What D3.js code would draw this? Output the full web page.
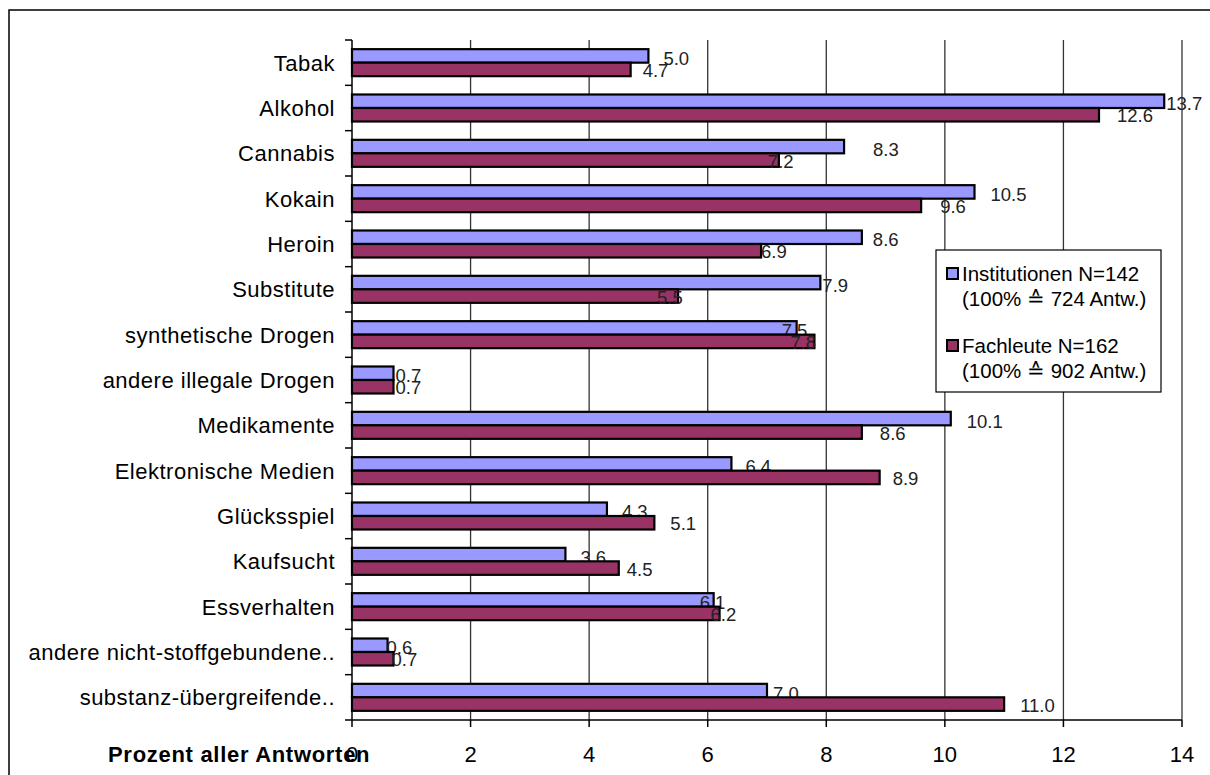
<!DOCTYPE html>
<html><head><meta charset="utf-8">
<script src="https://cdn.jsdelivr.net/npm/d3@7"></script>
<style>body{margin:0;background:#fff}svg{display:block}text{font-family:"Liberation Sans",Arial,sans-serif}</style>
</head><body>
<svg id="c" width="1210" height="775"></svg>
<script>
const categories = ["Tabak","Alkohol","Cannabis","Kokain","Heroin","Substitute","synthetische Drogen","andere illegale Drogen","Medikamente","Elektronische Medien","Glücksspiel","Kaufsucht","Essverhalten","andere nicht-stoffgebundene..","substanz-übergreifende.."];
const institutionen = [5.0,13.7,8.3,10.5,8.6,7.9,7.5,0.7,10.1,6.4,4.3,3.6,6.1,0.6,7.0];
const fachleute = [4.7,12.6,7.2,9.6,6.9,5.5,7.8,0.7,8.6,8.9,5.1,4.5,6.2,0.7,11.0];
const xTicks = [0,2,4,6,8,10,12,14];
const seriesNames = ["Institutionen N=142","Fachleute N=162"];
const seriesNotes = ["(100% \u2259 724 Antw.)","(100% \u2259 902 Antw.)"];
const axisTitle = "Prozent aller Antworten";
// label nudges (px) as in the original layout
const nudgeA = [15,2,29,16,11,2,-15,2,16,14,15,15,-14,-1,6];
const nudgeB = [12,18,-11,19,0,-21,-24,2,18,13,16,8,-9,-2,16];

const colors = ["#9999FF","#993366"];
const svg = d3.select("#c");
const L = 352, R = 1182, T = 40, B = 720;
const x = d3.scaleLinear().domain([0,14]).range([L,R]);
const y = d3.scaleBand().domain(categories).range([T,B]);
const barH = 13.5;

// outer frame
svg.append("rect").attr("x",9).attr("y",10).attr("width",1220).attr("height",800)
  .attr("fill","none").attr("stroke","#000").attr("stroke-width",1.5);

// gridlines
svg.append("g").selectAll("line").data(xTicks.filter(d=>d>0)).join("line")
  .attr("x1",d=>x(d)).attr("x2",d=>x(d)).attr("y1",T).attr("y2",B)
  .attr("stroke","#333").attr("stroke-width",1.3);

// bars & labels
const g = svg.append("g");
function drawSeries(vals, idx, nudge){
  g.append("g").selectAll("rect").data(vals).join("rect")
    .attr("x",x(0)).attr("y",(d,i)=>y(categories[i])+y.bandwidth()/2 - barH + idx*barH)
    .attr("width",d=>x(d)-x(0)).attr("height",barH)
    .attr("fill",colors[idx]).attr("stroke","#000").attr("stroke-width",2.2);
  g.append("g").selectAll("text").data(vals).join("text")
    .attr("x",(d,i)=>x(d)+nudge[i])
    .attr("y",(d,i)=>y(categories[i])+y.bandwidth()/2 - barH/2 + idx*barH + 1 + (idx===0?1.5:0))
    .attr("dy","0.36em").attr("font-size",18.5).attr("fill","#222")
    .text(d=>d.toFixed(1));
}
drawSeries(institutionen,0,nudgeA);
drawSeries(fachleute,1,nudgeB);

// axes
const ax = svg.append("g").attr("stroke","#000").attr("stroke-width",1.5);
ax.append("line").attr("x1",L).attr("x2",L).attr("y1",T).attr("y2",B);
ax.append("line").attr("x1",L).attr("x2",R).attr("y1",B).attr("y2",B);
const bounds = categories.map(c=>y(c)).concat([B]);
ax.selectAll(".yt").data(bounds).join("line").attr("class","yt")
  .attr("x1",L-7).attr("x2",L).attr("y1",d=>d).attr("y2",d=>d);
ax.selectAll(".xt").data(xTicks).join("line").attr("class","xt")
  .attr("x1",d=>x(d)).attr("x2",d=>x(d)).attr("y1",B).attr("y2",B+7);

svg.append("g").selectAll("text").data(xTicks).join("text")
  .attr("x",d=>x(d)).attr("y",762).attr("text-anchor","middle")
  .attr("font-size",22).attr("fill","#000").text(d=>d);

svg.append("g").selectAll("text").data(categories).join("text")
  .attr("x",335).attr("y",d=>y(d)+y.bandwidth()/2).attr("dy","0.36em")
  .attr("text-anchor","end").attr("font-size",22).attr("letter-spacing","0.5px")
  .attr("fill","#000").text(d=>d);

svg.append("text").attr("x",108).attr("y",762).attr("font-size",22)
  .attr("font-weight","bold").attr("letter-spacing","0.7px").text(axisTitle);

// legend
const lg = svg.append("g");
lg.append("rect").attr("x",936).attr("y",250).attr("width",225).attr("height",142)
  .attr("fill","#fff").attr("stroke","#000").attr("stroke-width",1.2);
[0,1].forEach(i=>{
  const y0 = 274 + i*72;
  lg.append("rect").attr("x",947).attr("y",y0-6).attr("width",11).attr("height",11)
    .attr("fill",colors[i]).attr("stroke","#000").attr("stroke-width",2);
  lg.append("text").attr("x",962).attr("y",y0).attr("dy","0.36em").attr("font-size",20.5).text(seriesNames[i]);
  lg.append("text").attr("x",962).attr("y",y0+25).attr("dy","0.36em").attr("font-size",20.5).text(seriesNotes[i]);
});
</script>
</body></html>
